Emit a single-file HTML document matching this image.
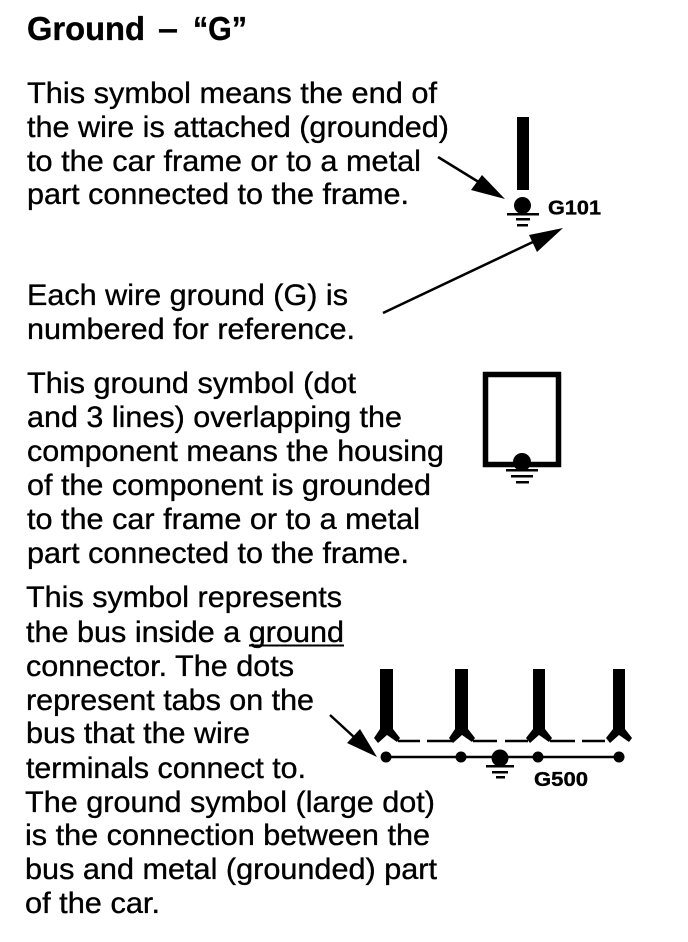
<!DOCTYPE html>
<html><head><meta charset="utf-8"><title>Ground – “G”</title>
<style>html,body{margin:0;padding:0;background:#fff}svg{display:block}
text{font-family:"Liberation Sans",Arial,sans-serif;fill:#000;stroke:#000;stroke-width:.35}
.b{font-size:29.5px}</style></head><body>
<svg width="688" height="942" viewBox="0 0 688 942" xmlns="http://www.w3.org/2000/svg">
<rect width="688" height="942" fill="#fff"/>
<text x="27" y="40" font-size="33" font-weight="bold" textLength="118" lengthAdjust="spacingAndGlyphs">Ground</text>
<text x="158" y="40" font-size="33" font-weight="bold" textLength="20" lengthAdjust="spacingAndGlyphs">–</text>
<text x="193" y="40" font-size="33" font-weight="bold" textLength="54" lengthAdjust="spacingAndGlyphs">“G”</text>
<text class="b" x="27" y="103" textLength="410" lengthAdjust="spacingAndGlyphs">This symbol means the end of</text>
<text class="b" x="27" y="137" textLength="422" lengthAdjust="spacingAndGlyphs">the wire is attached (grounded)</text>
<text class="b" x="27" y="171" textLength="394" lengthAdjust="spacingAndGlyphs">to the car frame or to a metal</text>
<text class="b" x="27" y="204" textLength="382" lengthAdjust="spacingAndGlyphs">part connected to the frame.</text>
<text class="b" x="27" y="305" textLength="321" lengthAdjust="spacingAndGlyphs">Each wire ground (G) is</text>
<text class="b" x="27" y="339" textLength="328" lengthAdjust="spacingAndGlyphs">numbered for reference.</text>
<text class="b" x="27" y="393" textLength="329" lengthAdjust="spacingAndGlyphs">This ground symbol (dot</text>
<text class="b" x="27" y="427" textLength="375" lengthAdjust="spacingAndGlyphs">and 3 lines) overlapping the</text>
<text class="b" x="27" y="461" textLength="417" lengthAdjust="spacingAndGlyphs">component means the housing</text>
<text class="b" x="27" y="495" textLength="404" lengthAdjust="spacingAndGlyphs">of the component is grounded</text>
<text class="b" x="27" y="529" textLength="393" lengthAdjust="spacingAndGlyphs">to the car frame or to a metal</text>
<text class="b" x="27" y="563" textLength="382" lengthAdjust="spacingAndGlyphs">part connected to the frame.</text>
<text class="b" x="26" y="607" textLength="316" lengthAdjust="spacingAndGlyphs">This symbol represents</text>
<text class="b" x="26" y="642" textLength="318" lengthAdjust="spacingAndGlyphs">the bus inside a ground</text>
<text class="b" x="26" y="676" textLength="268" lengthAdjust="spacingAndGlyphs">connector. The dots</text>
<text class="b" x="26" y="710" textLength="288" lengthAdjust="spacingAndGlyphs">represent tabs on the</text>
<text class="b" x="26" y="743" textLength="224" lengthAdjust="spacingAndGlyphs">bus that the wire</text>
<text class="b" x="26" y="778" textLength="280" lengthAdjust="spacingAndGlyphs">terminals connect to.</text>
<text class="b" x="25" y="812" textLength="410" lengthAdjust="spacingAndGlyphs">The ground symbol (large dot)</text>
<text class="b" x="25" y="845" textLength="405" lengthAdjust="spacingAndGlyphs">is the connection between the</text>
<text class="b" x="25" y="879" textLength="412" lengthAdjust="spacingAndGlyphs">bus and metal (grounded) part</text>
<text class="b" x="25" y="913" textLength="135" lengthAdjust="spacingAndGlyphs">of the car.</text>
<rect x="249" y="644.500" width="95" height="2"/>

<!-- G101 -->
<rect x="517" y="117" width="12" height="73"/>
<circle cx="522.500" cy="205.500" r="8.500"/><rect x="507" y="213" width="32" height="2.500"/><rect x="516" y="218" width="14" height="2.500"/><rect x="517" y="224" width="11" height="2.500"/>
<text x="548" y="214.500" font-size="20" font-weight="bold" textLength="53" lengthAdjust="spacingAndGlyphs">G101</text>
<line x1="438" y1="157" x2="490" y2="189" stroke="#000" stroke-width="2.500"/>
<polygon points="505,199 471,190 482,175"/>
<line x1="383" y1="313" x2="535" y2="241" stroke="#000" stroke-width="2.500"/>
<polygon points="563,228 529,235 537,252"/>

<!-- component -->
<rect x="485.500" y="374.500" width="73" height="90" fill="none" stroke="#000" stroke-width="5.500"/>
<circle cx="522" cy="462" r="9"/><rect x="506" y="469" width="32" height="2.500"/><rect x="511" y="475" width="22" height="2.500"/><rect x="516" y="481" width="13" height="2.500"/>

<!-- bus -->
<path d="M380 669h13v60l7 9-3 4-10-7-9 8-4-5 6-9z"/>
<path d="M455 669h13v60l7 9-3 4-10-7-9 8-4-5 6-9z"/>
<path d="M533 669h12v60l7 9-3 4-10-7-9 8-4-5 7-9z"/>
<path d="M613 669h12v60l7 9-3 4-10-7-9 8-4-5 7-9z"/>
<path d="M398 741h22M427 741h25M473 741h24M505 741h23M550 741h25M582 741h23" stroke="#000" stroke-width="2.500"/>
<line x1="386" y1="757" x2="619" y2="757" stroke="#000" stroke-width="2.500"/>
<circle cx="386" cy="757" r="5.500"/><circle cx="461" cy="757" r="5.500"/><circle cx="538" cy="757" r="5.500"/><circle cx="619" cy="757" r="5.500"/>
<circle cx="500" cy="758" r="8.500"/><rect x="486" y="765" width="28" height="2.500"/><rect x="492" y="771" width="16" height="2.500"/><rect x="496" y="776" width="9" height="2.500"/>
<text x="534" y="786" font-size="20" font-weight="bold" textLength="54" lengthAdjust="spacingAndGlyphs">G500</text>
<line x1="330" y1="715" x2="355" y2="738" stroke="#000" stroke-width="2.500"/>
<polygon points="377,757 347,743 360,729"/>
</svg>
</body></html>
